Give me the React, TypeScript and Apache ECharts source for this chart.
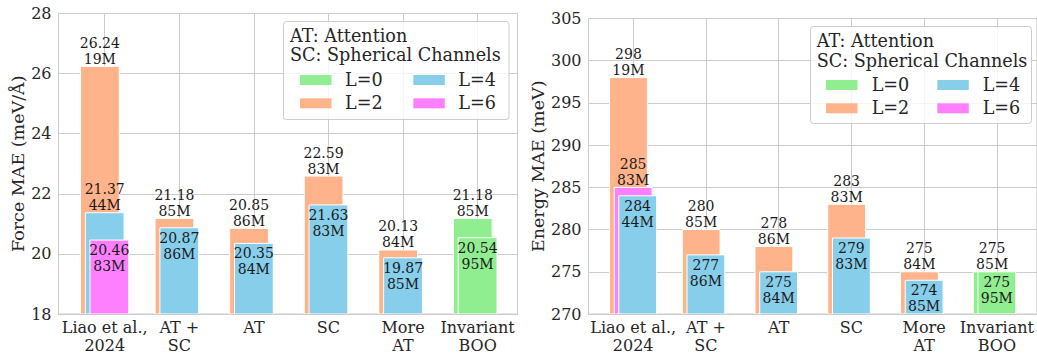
import React, { useEffect, useRef } from "react";
import * as echarts from "echarts";

// Model variants along the x axis
const categories = ["Liao et al.,\n2024", "AT +\nSC", "AT", "SC", "More\nAT", "Invariant\nBOO"];

// Bar colour for each degree L
const degreeColors: Record<number, string> = {
  0: "#90EE90",
  2: "#FFB38A",
  4: "#87CEEB",
  6: "#FF80FF",
};

// Force MAE (meV/Å): per variant, bars from back to front
const forceDegree = [[2, 4, 6], [2, 4], [2, 4], [2, 4], [2, 4], [0, 0]];
const forceMAE = [[26.24, 21.37, 20.46], [21.18, 20.87], [20.85, 20.35], [22.59, 21.63], [20.13, 19.87], [21.18, 20.54]];
const forceParams = [["19M", "44M", "83M"], ["85M", "86M"], ["86M", "84M"], ["83M", "83M"], ["84M", "85M"], ["85M", "95M"]];

// Energy MAE (meV): per variant, bars from back to front
const energyDegree = [[2, 6, 4], [2, 4], [2, 4], [2, 4], [2, 4], [0, 0]];
const energyMAE = [[298, 285, 284], [280, 277], [278, 275], [283, 279], [275, 274], [275, 275]];
const energyParams = [["19M", "83M", "44M"], ["85M", "86M"], ["86M", "84M"], ["83M", "83M"], ["84M", "85M"], ["85M", "95M"]];

const legendTitle = ["AT: Attention", "SC: Spherical Channels"];
const legendDegrees = [0, 2, 4, 6];

const FONT = "DejaVu Serif";
const INK = "#262626";
const GRID_GRAY = "#cccccc";
const BAR_WIDTH = 0.52;
const OFFSETS = [-0.065, 0, 0.062];

type Bar = { x: number; y: number; color: string; text: string; inside: boolean };

function buildBars(deg: number[][], vals: number[][], params: string[][], digits: number): Bar[] {
  const out: Bar[] = [];
  vals.forEach((group, g) => {
    group.forEach((v, j) => {
      out.push({
        x: g + OFFSETS[j],
        y: v,
        color: degreeColors[deg[g][j]],
        text: `${v.toFixed(digits)}\n${params[g][j]}`,
        inside: j === group.length - 1,
      });
    });
  });
  return out;
}

function barSeries(bars: Bar[], axisIndex: number, yMin: number) {
  return {
    type: "custom",
    xAxisIndex: axisIndex,
    yAxisIndex: axisIndex,
    data: bars.map((b) => [b.x, b.y]),
    clip: true,
    renderItem: (params: any, api: any) => {
      const b = bars[params.dataIndex];
      const x = api.value(0);
      const y = api.value(1);
      const p1 = api.coord([x - BAR_WIDTH / 2, y]);
      const p2 = api.coord([x + BAR_WIDTH / 2, yMin]);
      const cx = (p1[0] + p2[0]) / 2;
      return {
        type: "group",
        children: [
          {
            type: "rect",
            shape: { x: p1[0], y: p1[1], width: p2[0] - p1[0], height: p2[1] - p1[1] },
            style: { fill: b.color, stroke: "#ffffff", lineWidth: 1 },
          },
          {
            type: "text",
            z2: 10,
            style: {
              text: b.text,
              x: cx,
              y: b.inside ? p1[1] + 2 : p1[1] + 0.5,
              align: "center",
              verticalAlign: b.inside ? "top" : "bottom",
              fontFamily: FONT,
              fontSize: 14,
              lineHeight: 16,
              fill: "#1a1a1a",
            },
          },
        ],
      };
    },
  };
}

function legendGraphic(box: { x: number; y: number; w: number; h: number }, textX: number, titleY: number[], rowY: number[], patchX: number[], labelX: number[]) {
  const els: any[] = [
    {
      type: "rect",
      z: 100,
      shape: { x: box.x, y: box.y, width: box.w, height: box.h, r: 3 },
      style: { fill: "rgba(255,255,255,0.8)", stroke: GRID_GRAY, lineWidth: 1 },
    },
  ];
  legendTitle.forEach((t, i) => {
    els.push({
      type: "text",
      z: 101,
      style: { text: t, x: textX, y: titleY[i], verticalAlign: "middle", fontFamily: FONT, fontSize: 17.6, fill: INK },
    });
  });
  legendDegrees.forEach((d, i) => {
    const col = Math.floor(i / 2);
    const row = i % 2;
    els.push({
      type: "rect",
      z: 101,
      shape: { x: patchX[col], y: rowY[row] - 5, width: 31.5, height: 10 },
      style: { fill: degreeColors[d] },
    });
    els.push({
      type: "text",
      z: 101,
      style: { text: `L=${d}`, x: labelX[col], y: rowY[row], verticalAlign: "middle", fontFamily: FONT, fontSize: 17.6, fill: INK },
    });
  });
  return els;
}

function xAxisFor(gridIndex: number, min: number, max: number) {
  return {
    type: "value",
    gridIndex,
    min,
    max,
    minInterval: 1,
    maxInterval: 1,
    axisLine: { show: true, lineStyle: { color: GRID_GRAY, width: 1 } },
    axisTick: { show: false },
    splitLine: { show: true, lineStyle: { color: GRID_GRAY, width: 1 } },
    axisLabel: {
      showMinLabel: false,
      showMaxLabel: false,
      margin: 4,
      fontFamily: FONT,
      fontSize: 16,
      lineHeight: 18.5,
      color: INK,
      formatter: (v: number) => {
        const i = Math.round(v);
        return Math.abs(v - i) < 1e-6 && categories[i] ? categories[i] : "";
      },
    },
  };
}

function yAxisFor(gridIndex: number, name: string, min: number, max: number, interval: number, nameGap: number) {
  return {
    type: "value",
    gridIndex,
    min,
    max,
    interval,
    name,
    nameLocation: "middle",
    nameGap,
    nameTextStyle: { fontFamily: FONT, fontSize: 17.5, color: INK },
    axisLine: { show: true, lineStyle: { color: GRID_GRAY, width: 1 } },
    axisTick: { show: false },
    splitLine: { show: true, lineStyle: { color: GRID_GRAY, width: 1 } },
    axisLabel: { margin: 7, fontFamily: FONT, fontSize: 16, color: INK },
  };
}

export default function App() {
  const ref = useRef<HTMLDivElement>(null);

  useEffect(() => {
    if (!ref.current) return;
    const chart = echarts.init(ref.current, null, { renderer: "svg" });

    const forceBars = buildBars(forceDegree, forceMAE, forceParams, 2);
    const energyBars = buildBars(energyDegree, energyMAE, energyParams, 0);

    chart.setOption({
      animation: false,
      backgroundColor: "#ffffff",
      textStyle: { fontFamily: FONT },
      grid: [
        { left: 58.5, top: 13.5, width: 459, height: 303, show: true, borderColor: GRID_GRAY, borderWidth: 1, containLabel: false },
        { left: 588.5, top: 18.5, right: -2, height: 299, show: true, borderColor: GRID_GRAY, borderWidth: 1, containLabel: false },
      ],
      xAxis: [xAxisFor(0, -0.62, 5.535), xAxisFor(1, -0.614, 5.55)],
      yAxis: [
        yAxisFor(0, "Force MAE (meV/Å)", 18, 28, 2, 31),
        yAxisFor(1, "Energy MAE (meV)", 270, 305, 5, 41),
      ],
      series: [barSeries(forceBars, 0, 18), barSeries(energyBars, 1, 270)],
      graphic: [
        ...legendGraphic({ x: 283.5, y: 21.5, w: 225.5, h: 98 }, 290, [35.7, 55], [80, 103.3], [300, 413.3], [345, 458.3]),
        ...legendGraphic({ x: 810.5, y: 26.5, w: 221, h: 97 }, 816.7, [40.7, 60.7], [85, 108.3], [826, 937.3], [871.7, 982.7]),
      ],
    });

    return () => chart.dispose();
  }, []);

  return <div ref={ref} style={{ position: "absolute", left: 0, top: 0, width: 1037, height: 355 }} />;
}
